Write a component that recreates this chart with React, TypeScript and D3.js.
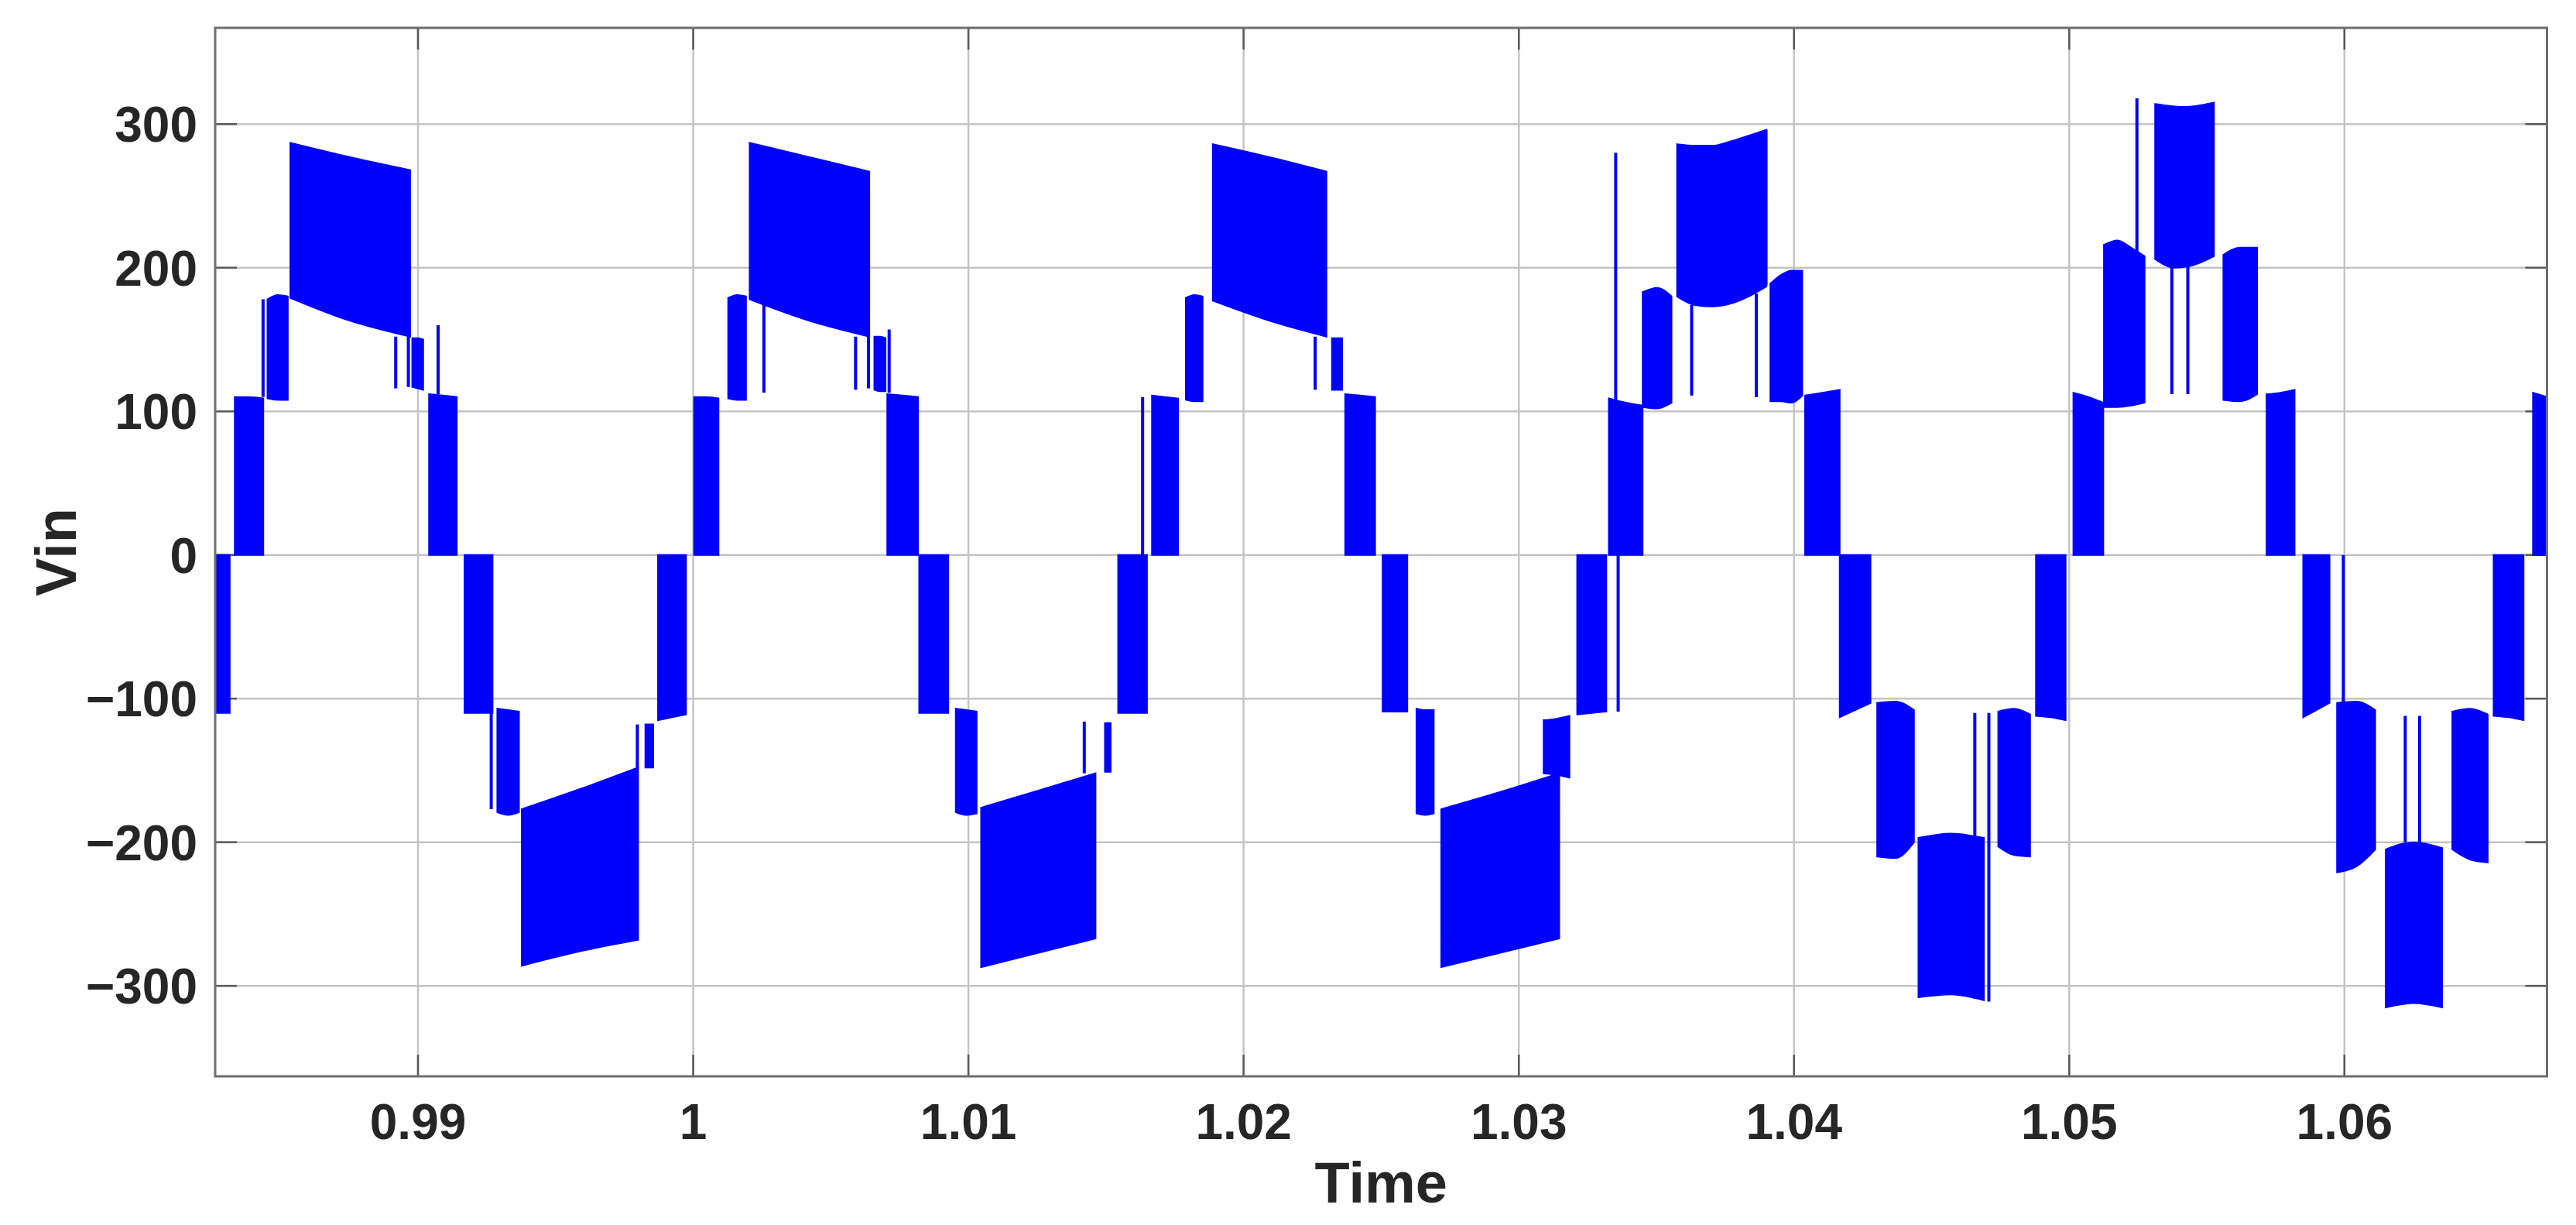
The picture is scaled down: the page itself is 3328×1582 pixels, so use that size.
import React from 'react';
import * as d3 from 'd3';

// ---------- axis ticks ----------
const xTicks = [0.99, 1.0, 1.01, 1.02, 1.03, 1.04, 1.05, 1.06];
const xTickLabels = ['0.99', '1', '1.01', '1.02', '1.03', '1.04', '1.05', '1.06'];
const yTicks = [-300, -200, -100, 0, 100, 200, 300];
const yTickLabels = ['\u2212300', '\u2212200', '\u2212100', '0', '100', '200', '300'];
const xDomain = [0.98263, 1.06736];
const yDomain = [-363, 367];

// ---------- waveform (PWM switching bands) ----------
// each band: [tStart, tEnd, upper-edge samples (V), lower-edge samples (V)]
type Band = [number, number, number[], number[]];
// each spike: [t, v0, v1]
type Spike = [number, number, number];

const cycle0Bands: Band[] = [
  [0.98263, 0.98316, [0, 0], [-110, -110]],
];

const cycle1Bands: Band[] = [
  [0.98334, 0.98438, [110, 110, 109], [0, 0, 0]],
  [0.98453, 0.98527, [178, 181, 180], [109, 108, 108]],
  [0.98536, 0.98972, [287, 277, 268], [179, 163, 152]],
  [0.98979, 0.99019, [151, 151, 150], [117, 116, 115]],
  [0.9904, 0.99141, [112, 111, 110], [0, 0, 0]],
  [0.99169, 0.99271, [0, 0, 0], [-110, -110, -110]],
  [0.99288, 0.99367, [-107, -108, -109], [-179, -181, -179]],
  [0.99377, 0.998, [-177, -163, -148], [-286, -276, -268]],
  [0.99826, 0.99855, [-118, -118], [-148, -148]],
  [0.99872, 0.99974, [0, 0, 0], [-115, -113, -111]],
];
const cycle1Spikes: Spike[] = [
  [0.98437, 110, 178],
  [0.98919, 152, 116],
  [0.98965, 152, 117],
  [0.99073, 160, 112],
  [0.99266, -107, -177],
  [0.99797, -148, -118],
];

const cycle2Bands: Band[] = [
  [1.00003, 1.00092, [110, 110, 109], [0, 0, 0]],
  [1.00127, 1.00192, [179, 181, 180], [109, 108, 108]],
  [1.00205, 1.0064, [287, 277, 267], [178, 163, 152]],
  [1.00658, 1.00699, [152, 152, 151], [115, 114, 114]],
  [1.00705, 1.00817, [112, 111, 110], [0, 0, 0]],
  [1.00821, 1.00927, [0, 0, 0], [-110, -110, -110]],
  [1.00954, 1.0103, [-107, -108, -109], [-179, -181, -180]],
  [1.01046, 1.01462, [-176, -164, -152], [-287, -277, -267]],
  [1.01496, 1.01517, [-117, -117], [-151, -151]],
  [1.01544, 1.01649, [0, 0, 0], [-110, -110, -110]],
];
const cycle2Spikes: Spike[] = [
  [1.00257, 175, 113],
  [1.0059, 152, 115],
  [1.00637, 152, 116],
  [1.00712, 157, 113],
  [1.01421, -116, -152],
];

const cycle3Bands: Band[] = [
  [1.01667, 1.01762, [111, 110, 109], [0, 0, 0]],
  [1.0179, 1.01851, [179, 181, 180], [108, 107, 107]],
  [1.01888, 1.02301, [286, 277, 267], [177, 163, 152]],
  [1.02321, 1.02358, [151, 151], [115, 115]],
  [1.02369, 1.02478, [112, 111, 110], [0, 0, 0]],
  [1.02505, 1.02595, [0, 0, 0], [-109, -109, -109]],
  [1.02628, 1.02691, [-107, -108, -108], [-180, -181, -180]],
  [1.02718, 1.03147, [-177, -165, -152], [-287, -277, -267]],
  [1.0309, 1.03184, [-115, -114, -112], [-152, -153, -155]],
  [1.03212, 1.03318, [0, 0, 0], [-111, -110, -109]],
];
const cycle3Spikes: Spike[] = [
  [1.01633, 0, 110],
  [1.0226, 152, 115],
  [1.03361, 0, -109],
];

const cycle4Bands: Band[] = [
  [1.03327, 1.0345, [109, 106, 104], [0, 0, 0]],
  [1.0345, 1.03555, [183, 186, 180], [103, 102, 106]],
  [1.03575, 1.039, [286, 285, 285, 288, 292, 296], [180, 174, 173, 175, 180, 187]],
  [1.03914, 1.0403, [189, 195, 198, 198], [107, 107, 106, 111]],
  [1.0404, 1.04166, [111, 113, 115], [0, 0, 0]],
  [1.04166, 1.04278, [0, 0, 0], [-113, -108, -103]],
  [1.04302, 1.04436, [-103, -102, -108], [-210, -211, -200]],
  [1.04452, 1.0469, [-197, -194, -197], [-308, -306, -310]],
  [1.04742, 1.04858, [-109, -107, -111], [-203, -209, -210]],
  [1.04879, 1.04987, [0, 0, 0], [-112, -113, -115]],
];
const cycle4Spikes: Spike[] = [
  [1.03352, 0, 280],
  [1.03628, 174, 111],
  [1.03863, 182, 110],
  [1.03898, 188, 296],
  [1.04657, -110, -309],
  [1.04708, -110, -311],
];

const cycle5Bands: Band[] = [
  [1.05015, 1.05124, [113, 110, 106], [0, 0, 0]],
  [1.05126, 1.05274, [216, 219, 214, 208], [103, 103, 104, 106]],
  [1.05312, 1.05526, [314, 312, 315], [206, 200, 202, 208]],
  [1.0556, 1.05683, [209, 214, 214], [108, 107, 112]],
  [1.05717, 1.05819, [112, 113, 115], [0, 0, 0]],
  [1.0585, 1.05946, [0, 0, 0], [-113, -108, -103]],
  [1.05973, 1.06112, [-103, -102, -108], [-221, -217, -205]],
  [1.0615, 1.06355, [-205, -200, -204], [-315, -312, -315]],
  [1.06392, 1.06521, [-109, -107, -111], [-205, -212, -214]],
  [1.06542, 1.06651, [0, 0, 0], [-112, -113, -115]],
  [1.06685, 1.06736, [113, 110], [0, 0]],
];
const cycle5Spikes: Spike[] = [
  [1.05246, 110, 318],
  [1.05373, 200, 112],
  [1.05431, 201, 112],
  [1.05996, 0, -103],
  [1.06221, -112, -200],
  [1.06273, -112, -200],
];

const allBands: Band[] = [
  ...cycle0Bands, ...cycle1Bands, ...cycle2Bands, ...cycle3Bands, ...cycle4Bands, ...cycle5Bands,
];
const allSpikes: Spike[] = [
  ...cycle1Spikes, ...cycle2Spikes, ...cycle3Spikes, ...cycle4Spikes, ...cycle5Spikes,
];

// ---------- layout ----------
const W = 3328;
const H = 1582;
const L = 278;
const R = 3290.5;
const T = 36;
const B = 1390;
const FONT = '"Liberation Sans", Arial, Helvetica, sans-serif';
const BLUE = '#0000ff';
const TICK = 28;

export default function App() {
  const x = d3.scaleLinear().domain(xDomain).range([L, R]);
  const y = d3.scaleLinear().domain(yDomain).range([B, T]);

  const edge = d3
    .line<[number, number]>()
    .x((d) => x(d[0]))
    .y((d) => y(d[1]))
    .curve(d3.curveMonotoneX);

  const bandPath = (b: Band) => {
    const [t0, t1, hi, lo] = b;
    const up: [number, number][] = hi.map((v, i) => [t0 + ((t1 - t0) * i) / (hi.length - 1), v]);
    const dn: [number, number][] = lo
      .map((v, i) => [t0 + ((t1 - t0) * i) / (lo.length - 1), v] as [number, number])
      .reverse();
    const p1 = edge(up) || '';
    const p2 = (edge(dn) || '').replace(/^M/, 'L');
    return p1 + p2 + 'Z';
  };

  return (
    <svg
      width={W}
      height={H}
      viewBox={`0 0 ${W} ${H}`}
      style={{ position: 'absolute', left: 0, top: 0, background: '#fff' }}
    >
      <rect x={0} y={0} width={W} height={H} fill="#fff" />
      <defs>
        <clipPath id="plotclip">
          <rect x={L} y={T} width={R - L} height={B - T} />
        </clipPath>
      </defs>

      {/* grid */}
      <g stroke="#c4c4c4" strokeWidth={2.5}>
        {xTicks.map((t) => (
          <line key={'gx' + t} x1={x(t)} x2={x(t)} y1={T} y2={B} />
        ))}
        {yTicks.map((v) => (
          <line key={'gy' + v} x1={L} x2={R} y1={y(v)} y2={y(v)} />
        ))}
      </g>

      {/* ticks (inward, all four sides) */}
      <g stroke="#5a5a5a" strokeWidth={2.5}>
        {xTicks.map((t) => (
          <g key={'tx' + t}>
            <line x1={x(t)} x2={x(t)} y1={B} y2={B - TICK} />
            <line x1={x(t)} x2={x(t)} y1={T} y2={T + TICK} />
          </g>
        ))}
        {yTicks.map((v) => (
          <g key={'ty' + v}>
            <line x1={L} x2={L + TICK} y1={y(v)} y2={y(v)} />
            <line x1={R} x2={R - TICK} y1={y(v)} y2={y(v)} />
          </g>
        ))}
      </g>

      {/* waveform */}
      <g clipPath="url(#plotclip)">
        {allBands.map((b, i) => (
          <path key={'b' + i} d={bandPath(b)} fill={BLUE} stroke={BLUE} strokeWidth={2} />
        ))}
        {allSpikes.map((s, i) => (
          <line
            key={'s' + i}
            x1={x(s[0])}
            x2={x(s[0])}
            y1={y(s[1])}
            y2={y(s[2])}
            stroke={BLUE}
            strokeWidth={4}
          />
        ))}
      </g>

      {/* frame */}
      <rect x={L} y={T} width={R - L} height={B - T} fill="none" stroke="#6e6e6e" strokeWidth={3} />

      {/* tick labels */}
      <g fontFamily={FONT} fontWeight="bold" fontSize={64} fill="#262626">
        {xTicks.map((t, i) => (
          <text key={'lx' + t} x={x(t)} y={1471} textAnchor="middle">
            {xTickLabels[i]}
          </text>
        ))}
        {yTicks.map((v, i) => (
          <text key={'ly' + v} x={255} y={y(v)} dy="0.36em" textAnchor="end">
            {yTickLabels[i]}
          </text>
        ))}
      </g>

      {/* axis labels */}
      <text
        x={(L + R) / 2}
        y={1553}
        textAnchor="middle"
        fontFamily={FONT}
        fontWeight="bold"
        fontSize={74}
        fill="#262626"
      >
        Time
      </text>
      <text
        transform={`translate(98, ${(T + B) / 2}) rotate(-90)`}
        textAnchor="middle"
        fontFamily={FONT}
        fontWeight="bold"
        fontSize={74}
        fill="#262626"
      >
        Vin
      </text>
    </svg>
  );
}
